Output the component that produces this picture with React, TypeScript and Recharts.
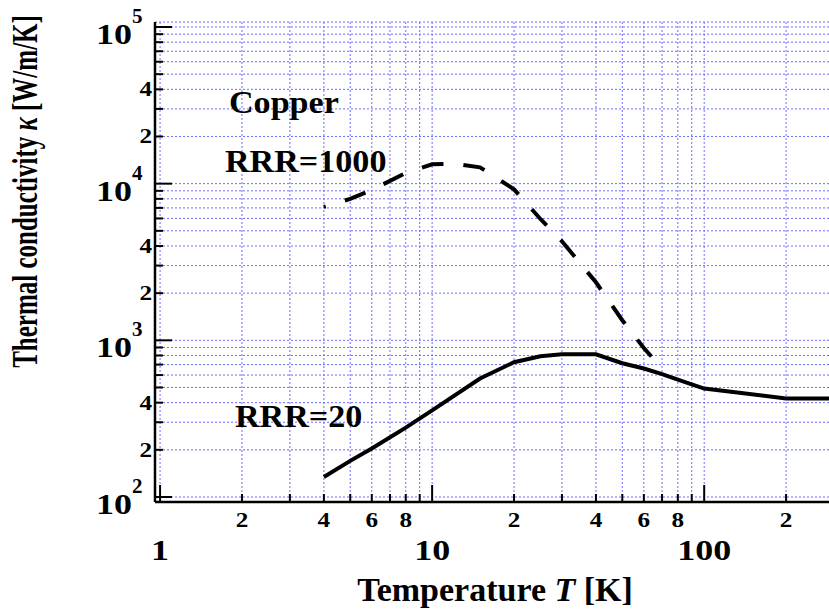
import { LineChart, Line, XAxis, YAxis, CartesianGrid } from 'recharts'

// temperature [K] and thermal conductivity [W/m/K]
const temperatureRRR20 = [4, 5, 6, 8, 10, 15, 20, 25, 30, 40, 50, 60, 70, 80, 100, 200, 300]
const kappaRRR20 = [134, 170, 204, 277, 357, 570, 725, 792, 815, 815, 714, 661, 608, 561, 492, 425, 425]

const temperatureRRR1000 = [4, 5, 6, 8, 10, 12, 15, 20, 25, 30, 40, 50, 60, 70]
const kappaRRR1000 = [7100, 8000, 9100, 11700, 13300, 13400, 12700, 9200, 5950, 4290, 2345, 1343, 893, 661]

const xTicks = [1, 2, 3, 4, 5, 6, 7, 8, 9, 10, 20, 30, 40, 50, 60, 70, 80, 90, 100, 200, 300]
const xTickLabels = ['1', '2', '', '4', '', '6', '', '8', '', '10', '2', '', '4', '', '6', '', '8', '', '100', '2', '']
const xMajorTicks = [1, 10, 100]

const yTicks = [
  100, 200, 300, 400, 500, 600, 700, 800, 900,
  1000, 2000, 3000, 4000, 5000, 6000, 7000, 8000, 9000,
  10000, 20000, 30000, 40000, 50000, 60000, 70000, 80000, 90000,
  100000,
]
const yTickLabels = [
  '10^2', '2', '', '4', '', '', '', '', '',
  '10^3', '2', '', '4', '', '', '', '', '',
  '10^4', '2', '', '4', '', '', '', '', '',
  '10^5',
]

const rrr20 = temperatureRRR20.map((t, i) => ({ t, k: kappaRRR20[i] }))
const rrr1000 = temperatureRRR1000.map((t, i) => ({ t, k: kappaRRR1000[i] }))

// frame sits 5px outside 1 K and outside the 10^2..10^5 decades
const X_DOMAIN = [0.958, 300]
const Y_DOMAIN = [92.9, 107600]

const FONT = '"Liberation Serif", "Times New Roman", Times, serif'
const GRID = '#6b6bff'

function XTick(props: any) {
  const { x, y, payload } = props
  const i = xTicks.indexOf(payload.value)
  const label = i >= 0 ? xTickLabels[i] : ''
  const major = xMajorTicks.includes(payload.value)
  return (
    <g>
      <line x1={x} y1={y} x2={x} y2={y - (major ? 17 : 8)} stroke="#000" strokeWidth={2} />
      {label && (
        <text
          transform={`translate(${x},${y + (major ? 58 : 25)}) scale(1.2,1)`}
          textAnchor="middle"
          fontFamily={FONT}
          fontWeight="bold"
          fontSize={major ? 30 : 21}
          fill="#000"
        >
          {label}
        </text>
      )}
    </g>
  )
}

function YTick(props: any) {
  const { x, y, payload } = props
  const i = yTicks.indexOf(payload.value)
  const label = i >= 0 ? yTickLabels[i] : ''
  const major = label.includes('^')
  return (
    <g>
      <line x1={x} y1={y} x2={x + (major ? 17 : 8)} y2={y} stroke="#000" strokeWidth={2} />
      {major && (
        <>
          <text
            transform={`translate(${x - 23},${y + 17}) scale(1.2,1)`}
            textAnchor="end"
            fontFamily={FONT}
            fontWeight="bold"
            fontSize={30}
            fill="#000"
          >
            {label.split('^')[0]}
          </text>
          <text
            x={x - 23}
            y={y - 4}
            textAnchor="start"
            fontFamily={FONT}
            fontWeight="bold"
            fontSize={21}
            fill="#000"
          >
            {label.split('^')[1]}
          </text>
        </>
      )}
      {!major && label && (
        <text
          transform={`translate(${x - 3},${y + 7}) scale(1.2,1)`}
          textAnchor="end"
          fontFamily={FONT}
          fontWeight="bold"
          fontSize={21}
          fill="#000"
        >
          {label}
        </text>
      )}
    </g>
  )
}

function Note({ x, y, children }: { x: number; y: number; children: any }) {
  return (
    <text
      transform={`translate(${x},${y}) scale(1.1,1)`}
      fontFamily={FONT}
      fontWeight="bold"
      fontSize={31}
      fill="#000"
    >
      {children}
    </text>
  )
}

export default function App() {
  return (
    <div style={{ position: 'absolute', left: 0, top: 0, width: 829, height: 612, overflow: 'hidden', background: '#fff' }}>
      <LineChart width={840} height={612} margin={{ top: 22, right: 6, bottom: 0, left: 0 }}>
        <CartesianGrid stroke={GRID} strokeDasharray="2 2" strokeWidth={1} />
        <XAxis
          dataKey="t"
          type="number"
          scale="log"
          domain={X_DOMAIN}
          allowDataOverflow
          ticks={xTicks}
          interval={0}
          height={110}
          tickSize={0}
          tickMargin={0}
          tickLine={false}
          tick={<XTick />}
          axisLine={{ stroke: '#000', strokeWidth: 2.5 }}
        />
        <XAxis
          xAxisId="top"
          orientation="top"
          type="number"
          scale="log"
          domain={X_DOMAIN}
          allowDataOverflow
          height={0}
          tick={false}
          tickLine={false}
          axisLine={{ stroke: '#000', strokeWidth: 2.5 }}
        />
        <YAxis
          dataKey="k"
          type="number"
          scale="log"
          domain={Y_DOMAIN}
          allowDataOverflow
          ticks={yTicks}
          interval={0}
          width={155}
          tickSize={0}
          tickMargin={0}
          tickLine={false}
          tick={<YTick />}
          axisLine={{ stroke: '#000', strokeWidth: 2.5 }}
        />
        <Line
          data={rrr1000}
          dataKey="k"
          type="linear"
          stroke="#000"
          strokeWidth={4}
          strokeDasharray="22 20"
          strokeDashoffset={20}
          dot={false}
          isAnimationActive={false}
        />
        <Line
          data={rrr20}
          dataKey="k"
          type="linear"
          stroke="#000"
          strokeWidth={4}
          dot={false}
          isAnimationActive={false}
        />
      </LineChart>
      <svg width={829} height={612} style={{ position: 'absolute', left: 0, top: 0, pointerEvents: 'none' }}>
        <Note x={229} y={113}>Copper</Note>
        <Note x={225} y={172}>RRR=1000</Note>
        <Note x={235} y={427}>RRR=20</Note>
        <text x={495} y={601} textAnchor="middle" fontFamily={FONT} fontWeight="bold" fontSize={34} fill="#000">
          Temperature <tspan fontStyle="italic">T</tspan> [K]
        </text>
        <text
          transform="translate(37,191.5) rotate(-90) scale(1,1.45)"
          textAnchor="middle"
          fontFamily={FONT}
          fontWeight="bold"
          fontSize={25}
          fill="#000"
        >
          Thermal conductivity <tspan fontStyle="italic">κ</tspan> [W/m/K]
        </text>
      </svg>
    </div>
  )
}
